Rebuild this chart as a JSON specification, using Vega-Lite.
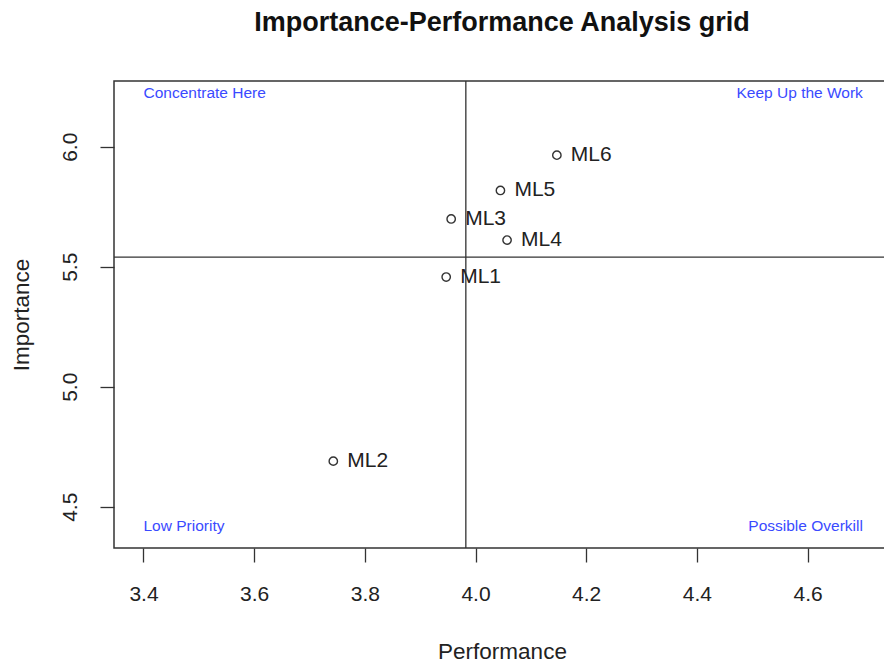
{
  "$schema": "https://vega.github.io/schema/vega-lite/v6.json",
  "autosize": "none",
  "padding": {"left": 114, "top": 81, "right": 0, "bottom": 119},
  "width": 776,
  "height": 467,
  "background": "white",
  "title": {
    "text": "Importance-Performance Analysis grid",
    "font": "Liberation Sans",
    "fontSize": 27,
    "fontWeight": "bold",
    "color": "#111111",
    "anchor": "middle",
    "baseline": "alphabetic",
    "offset": 22
  },
  "datasets": {
    "pts": [
      {"perf": 3.947, "imp": 5.457, "label": "ML1"},
      {"perf": 3.743, "imp": 4.690, "label": "ML2"},
      {"perf": 3.956, "imp": 5.699, "label": "ML3"},
      {"perf": 4.057, "imp": 5.611, "label": "ML4"},
      {"perf": 4.045, "imp": 5.818, "label": "ML5"},
      {"perf": 4.147, "imp": 5.965, "label": "ML6"}
    ],
    "quad": [
      {"perf": 3.4, "imp": 6.225, "label": "Concentrate Here", "side": "left"},
      {"perf": 4.7, "imp": 6.225, "label": "Keep Up the Work", "side": "right"},
      {"perf": 3.4, "imp": 4.42, "label": "Low Priority", "side": "left"},
      {"perf": 4.7, "imp": 4.42, "label": "Possible Overkill", "side": "right"}
    ]
  },
  "layer": [
    {
      "data": {"name": "pts"},
      "mark": {"type": "point", "shape": "circle", "filled": false, "stroke": "#333333", "strokeWidth": 1.4, "size": 70, "opacity": 1},
      "encoding": {
        "x": {
          "field": "perf", "type": "quantitative",
          "scale": {"domain": [3.3467, 4.749], "nice": false, "zero": false},
          "axis": {"title": "Performance", "values": [3.4, 3.6, 3.8, 4.0, 4.2, 4.4, 4.6], "format": ".1f", "labelPadding": 21, "titleY": 110, "titleBaseline": "alphabetic"}
        },
        "y": {
          "field": "imp", "type": "quantitative",
          "scale": {"domain": [4.328, 6.274], "nice": false, "zero": false},
          "axis": {"title": "Importance", "values": [4.5, 5.0, 5.5, 6.0], "format": ".1f", "labelAngle": -90, "labelAlign": "center", "labelBaseline": "bottom", "labelPadding": 20, "titleX": -86, "titleBaseline": "alphabetic"}
        }
      }
    },
    {
      "data": {"name": "pts"},
      "mark": {"type": "rule", "color": "#333333", "strokeWidth": 1.3},
      "encoding": {
        "x": {"aggregate": "mean", "field": "perf", "type": "quantitative",
          "axis": {"title": "Performance", "values": [3.4, 3.6, 3.8, 4.0, 4.2, 4.4, 4.6], "format": ".1f", "labelPadding": 21, "titleY": 110, "titleBaseline": "alphabetic"}}
      }
    },
    {
      "data": {"name": "pts"},
      "mark": {"type": "rule", "color": "#333333", "strokeWidth": 1.3},
      "encoding": {
        "y": {"aggregate": "mean", "field": "imp", "type": "quantitative",
          "axis": {"title": "Importance", "values": [4.5, 5.0, 5.5, 6.0], "format": ".1f", "labelAngle": -90, "labelAlign": "center", "labelBaseline": "bottom", "labelPadding": 20, "titleX": -86, "titleBaseline": "alphabetic"}}
      }
    },
    {
      "data": {"name": "pts"},
      "mark": {"type": "text", "align": "left", "baseline": "middle", "dx": 14, "fontSize": 21, "font": "Liberation Sans", "color": "#222222"},
      "encoding": {
        "x": {"field": "perf", "type": "quantitative",
          "axis": {"title": "Performance", "values": [3.4, 3.6, 3.8, 4.0, 4.2, 4.4, 4.6], "format": ".1f", "labelPadding": 21, "titleY": 110, "titleBaseline": "alphabetic"}},
        "y": {"field": "imp", "type": "quantitative",
          "axis": {"title": "Importance", "values": [4.5, 5.0, 5.5, 6.0], "format": ".1f", "labelAngle": -90, "labelAlign": "center", "labelBaseline": "bottom", "labelPadding": 20, "titleX": -86, "titleBaseline": "alphabetic"}},
        "text": {"field": "label"}
      }
    },
    {
      "data": {"name": "quad"},
      "transform": [{"filter": "datum.side === 'left'"}],
      "mark": {"type": "text", "align": "left", "baseline": "middle", "fontSize": 15.5, "font": "Liberation Sans", "color": "#3a4aff"},
      "encoding": {
        "x": {"field": "perf", "type": "quantitative",
          "axis": {"title": "Performance", "values": [3.4, 3.6, 3.8, 4.0, 4.2, 4.4, 4.6], "format": ".1f", "labelPadding": 21, "titleY": 110, "titleBaseline": "alphabetic"}},
        "y": {"field": "imp", "type": "quantitative",
          "axis": {"title": "Importance", "values": [4.5, 5.0, 5.5, 6.0], "format": ".1f", "labelAngle": -90, "labelAlign": "center", "labelBaseline": "bottom", "labelPadding": 20, "titleX": -86, "titleBaseline": "alphabetic"}},
        "text": {"field": "label"}
      }
    },
    {
      "data": {"name": "quad"},
      "transform": [{"filter": "datum.side === 'right'"}],
      "mark": {"type": "text", "align": "right", "baseline": "middle", "fontSize": 15.5, "font": "Liberation Sans", "color": "#3a4aff"},
      "encoding": {
        "x": {"field": "perf", "type": "quantitative",
          "axis": {"title": "Performance", "values": [3.4, 3.6, 3.8, 4.0, 4.2, 4.4, 4.6], "format": ".1f", "labelPadding": 21, "titleY": 110, "titleBaseline": "alphabetic"}},
        "y": {"field": "imp", "type": "quantitative",
          "axis": {"title": "Importance", "values": [4.5, 5.0, 5.5, 6.0], "format": ".1f", "labelAngle": -90, "labelAlign": "center", "labelBaseline": "bottom", "labelPadding": 20, "titleX": -86, "titleBaseline": "alphabetic"}},
        "text": {"field": "label"}
      }
    }
  ],
  "config": {
    "view": {"stroke": "#333333", "strokeWidth": 1.5},
    "font": "Liberation Sans",
    "axis": {
      "domain": false,
      "grid": false,
      "tickColor": "#333333",
      "tickWidth": 1.3,
      "tickSize": 14,
      "labelFont": "Liberation Sans",
      "labelFontSize": 21,
      "labelColor": "#222222",
      "titleFont": "Liberation Sans",
      "titleFontSize": 22.5,
      "titleFontWeight": "normal",
      "titleColor": "#222222"
    }
  }
}
